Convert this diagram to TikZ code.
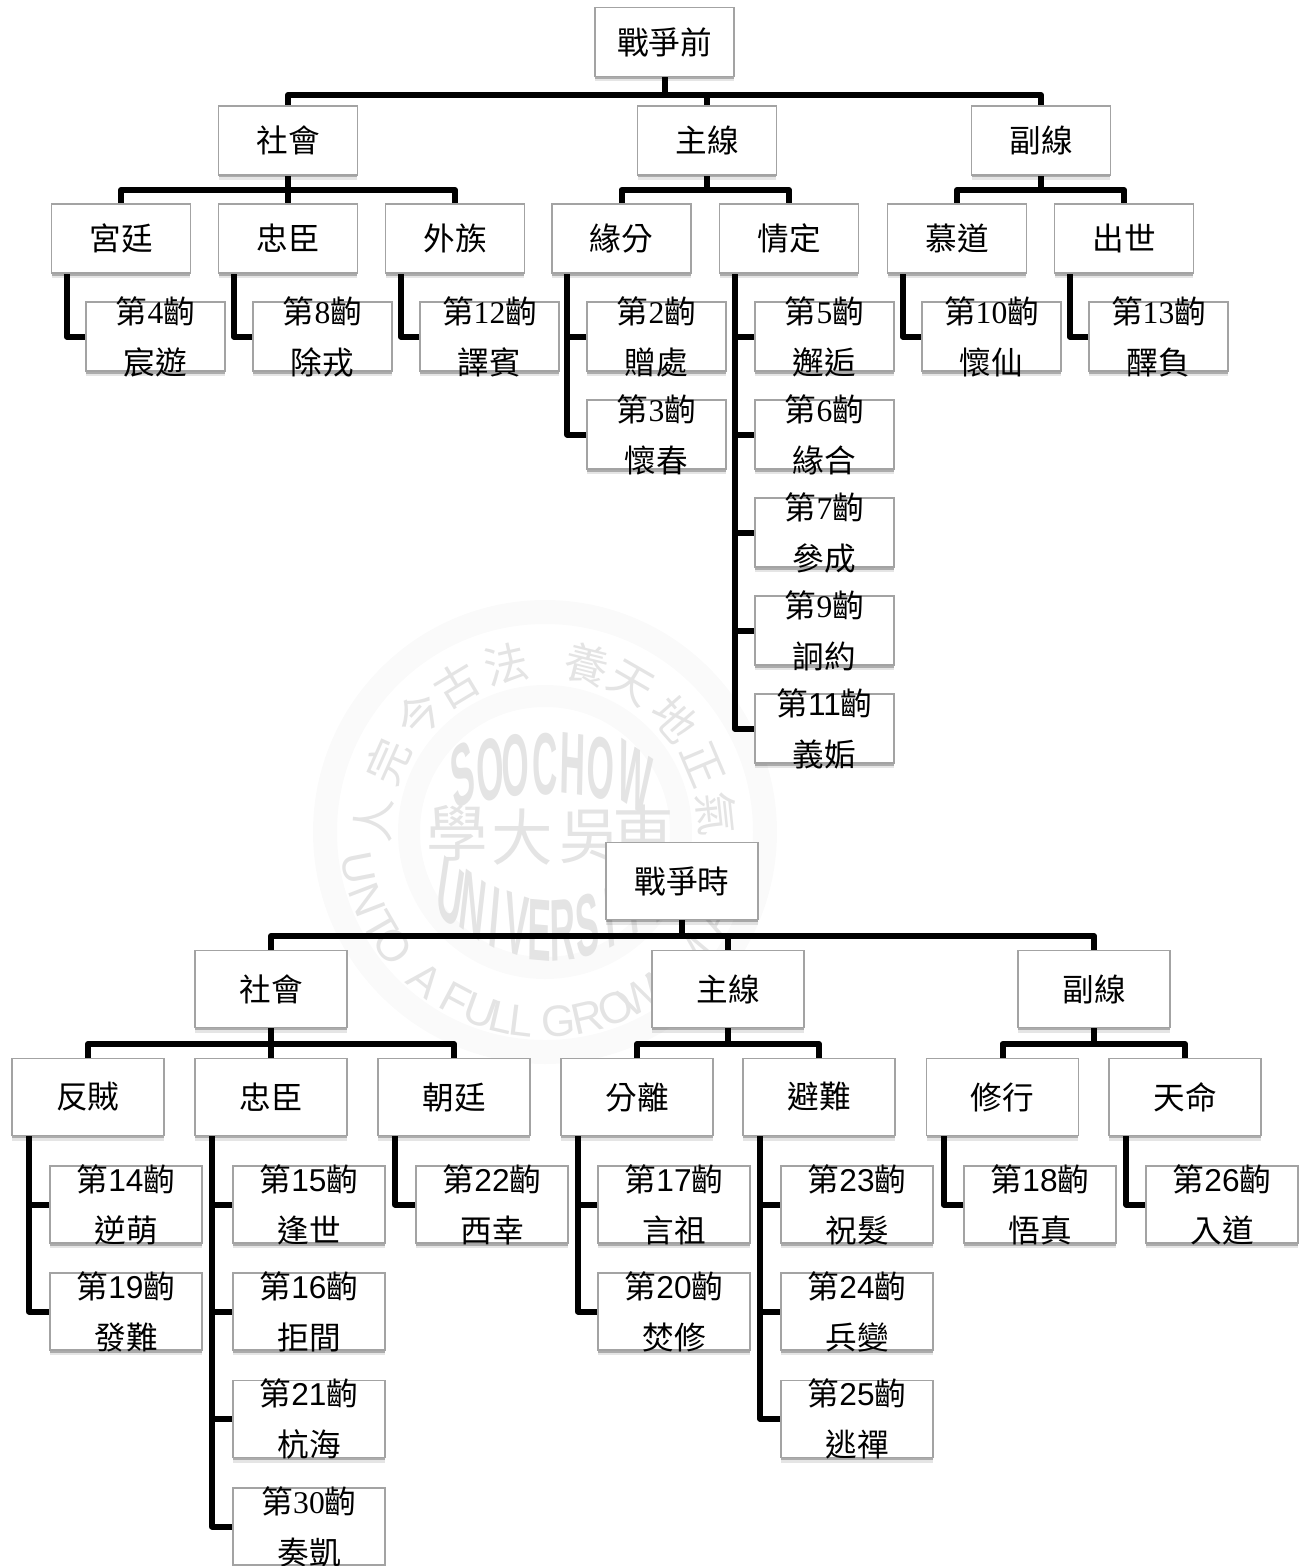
\documentclass[tikz,border=0pt]{standalone}
\usepackage{fontspec}
\setmainfont{Noto Sans CJK TC}
\newfontfamily\serfont{Liberation Serif}
\newfontfamily\sanfont{Liberation Sans}
\usetikzlibrary{backgrounds,calc,shadows}
\definecolor{boxline}{HTML}{A3A3A3}
\definecolor{sealgray}{HTML}{E4E4E4}
\definecolor{sealring}{HTML}{FAFAFA}
\newcommand{\digser}[1]{{\serfont #1}}
\newcommand{\digsan}[1]{{\sanfont #1}}
\tikzset{
  box/.style={draw=boxline, line width=0.9pt, fill=white, inner sep=0pt,
    drop shadow={shadow xshift=0pt, shadow yshift=-0.1cm, opacity=.1, fill=black},
    drop shadow={shadow xshift=0pt, shadow yshift=-0.05cm, opacity=.25, fill=black},
    font=\fontsize{18}{29}\selectfont},
  boxa/.style={box, minimum width=2.78cm, minimum height=1.38cm},
  boxb/.style={box, minimum width=3.04cm, minimum height=1.54cm},
  leaftxt/.style={align=center, inner sep=0pt, font=\fontsize{18}{29}\selectfont},
  conn/.style={line width=0.12cm, line join=round, black},
  sealchar/.style={sealgray, inner sep=0pt, font=\fontsize{25}{25}\selectfont},
  sealbig/.style={sealgray, inner sep=0pt, font=\sanfont\bfseries\fontsize{20}{20}\selectfont},
  seallat/.style={sealgray, inner sep=0pt, font=\sanfont\fontsize{25}{25}\selectfont},
}

\begin{document}
\begin{tikzpicture}[x=0.02cm, y=-0.02cm]
  \useasboundingbox (0,0) rectangle (1310,1566);
  % before the war
  \node[boxa] (pre) at (664.5,42) {戰爭前};
  \node[boxa] (preSoc) at (288,140.5) {社會};
  \node[boxa] (preMain) at (707,140.5) {主線};
  \node[boxa] (preSide) at (1041,140.5) {副線};
  \node[boxa] (gong) at (121,238.5) {宮廷};
  \node[boxa] (zhong) at (288,238.5) {忠臣};
  \node[boxa] (wai) at (455,238.5) {外族};
  \node[boxa] (yuan) at (621.5,238.5) {緣分};
  \node[boxa] (qing) at (789,238.5) {情定};
  \node[boxa] (mu) at (957,238.5) {慕道};
  \node[boxa] (chu) at (1124,238.5) {出世};
  \foreach \nm/\x/\y/\dg/\t in {
    c4/155.5/336.5/\digser{4}/宸遊, c8/322.5/336.5/\digser{8}/除戎, c12/489.5/336.5/\digser{12}/譯賓,
    c2/656.5/336.5/\digser{2}/贈處, c3/656.5/434.5/\digser{3}/懷春,
    c5/824.5/336.5/\digser{5}/邂逅, c6/824.5/434.5/\digser{6}/緣合, c7/824.5/532.5/\digser{7}/參成,
    c9/824.5/630.5/\digser{9}/詗約, c11/824.5/728.5/\digsan{11}/義姤,
    c10/991.5/336.5/\digser{10}/懷仙, c13/1158.5/336.5/\digser{13}/醳負}
    \node[boxa, label={[leaftxt]center:{第\dg 齣\\\t}}] (\nm) at (\x,\y) {};
  % during the war
  \node[boxb] (war) at (682,881) {戰爭時};
  \node[boxb] (warSoc) at (271,989) {社會};
  \node[boxb] (warMain) at (728,989) {主線};
  \node[boxb] (warSide) at (1094,989) {副線};
  \node[boxb] (fan) at (88,1097) {反賊};
  \node[boxb] (zhongb) at (271,1097) {忠臣};
  \node[boxb] (chao) at (454,1097) {朝廷};
  \node[boxb] (fen) at (637,1097) {分離};
  \node[boxb] (bi) at (819,1097) {避難};
  \node[boxb] (xiu) at (1002.5,1097) {修行};
  \node[boxb] (tian) at (1185,1097) {天命};
  \foreach \nm/\x/\y/\dg/\t in {
    c14/126/1204.5/\digsan{14}/逆萌, c19/126/1311.5/\digsan{19}/發難,
    c15/309/1204.5/\digsan{15}/逢世, c16/309/1311.5/\digsan{16}/拒間,
    c21/309/1419/\digsan{21}/杭海, c30/309/1526.5/\digser{30}/奏凱,
    c22/492/1204.5/\digsan{22}/西幸,
    c17/674/1204.5/\digsan{17}/言祖, c20/674/1311.5/\digsan{20}/焚修,
    c23/857/1204.5/\digsan{23}/祝髮, c24/857/1311.5/\digsan{24}/兵變, c25/857/1419/\digsan{25}/逃禪,
    c18/1040/1204.5/\digsan{18}/悟真, c26/1222/1204.5/\digsan{26}/入道}
    \node[boxb, label={[leaftxt]center:{第\dg 齣\\\t}}] (\nm) at (\x,\y) {};
  \coordinate (busa) at (0,95);
  \coordinate (busb) at (0,190);
  \coordinate (busc) at (0,936);
  \coordinate (busd) at (0,1044);
  \coordinate (seal) at (545,832);
  \begin{scope}[on background layer]
    % watermark
    \draw[sealring, line width=0.48cm] (seal) circle (220);
    \draw[sealring, line width=0.44cm] (seal) circle (136);
    \foreach \a/\t [count=\i] in {176/人,156/完,137/今,121/古,103/法,76/養,60/天,41/地,23/正,6/氣}
      \node[sealchar, rotate=\a-90] (sc\i) at ($(seal)+(\a:3.44cm)$) {\t};
    \foreach \a/\t [count=\i] in {191/U,201/N,210/T,217/O,231/A,242/F,250/U,257/L,263/L,274/G,283/R,292/O,300/W,309/N,320/M,333/A,345/N}
      \node[seallat, rotate=\a+90] (sl\i) at ($(seal)+(\a:3.8cm)$) {\t};
    \foreach \x/\y/\r/\t [count=\i] in {463/775/15/S,490/770/8/O,516/766/3/O,545/764/0/C,573/764/-3/H,601/768/-8/O,635/778/-15/W,
      450/893/-20/U,473/905/-16/N,495/917/-12/I,517/925/-8/V,540/930/-2/E,563/930/2/R,587/925/8/S,610/917/12/I,632/905/16/T,655/893/20/Y}
      \node[sealbig, yscale=2.5, rotate=\r] (sb\i) at (\x,\y) {\t};
    \foreach \x/\y/\t [count=\i] in {457/833/學,522/837/大,590/837/吳,643/833/東}
      \node[sealchar, scale=1.4] (sd\i) at (\x,\y) {\t};
    % connectors
    \draw[conn] (pre.south) -- (pre.south |- busa);
    \draw[conn] (preMain.north) -- (preMain.north |- busa);
    \draw[conn] (preSoc.north) |- (preSide.north |- busa) -- (preSide.north);
    \draw[conn] (preSoc.south) -- (preSoc.south |- busb);
    \draw[conn] (zhong.north) -- (zhong.north |- busb);
    \draw[conn] (gong.north) |- (wai.north |- busb) -- (wai.north);
    \draw[conn] (preMain.south) -- (preMain.south |- busb);
    \draw[conn] (yuan.north) |- (qing.north |- busb) -- (qing.north);
    \draw[conn] (preSide.south) -- (preSide.south |- busb);
    \draw[conn] (mu.north) |- (chu.north |- busb) -- (chu.north);
    \foreach \p/\c in {gong/c4,zhong/c8,wai/c12,yuan/c2,yuan/c3,qing/c5,qing/c6,qing/c7,qing/c9,qing/c11,mu/c10,chu/c13}
      \draw[conn] ($(\p.south west)+(16,0)$) |- (\c.west);
    \draw[conn] (war.south) -- (war.south |- busc);
    \draw[conn] (warMain.north) -- (warMain.north |- busc);
    \draw[conn] (warSoc.north) |- (warSide.north |- busc) -- (warSide.north);
    \draw[conn] (warSoc.south) -- (warSoc.south |- busd);
    \draw[conn] (zhongb.north) -- (zhongb.north |- busd);
    \draw[conn] (fan.north) |- (chao.north |- busd) -- (chao.north);
    \draw[conn] (warMain.south) -- (warMain.south |- busd);
    \draw[conn] (fen.north) |- (bi.north |- busd) -- (bi.north);
    \draw[conn] (warSide.south) -- (warSide.south |- busd);
    \draw[conn] (xiu.north) |- (tian.north |- busd) -- (tian.north);
    \foreach \p/\c in {fan/c14,fan/c19,zhongb/c15,zhongb/c16,zhongb/c21,zhongb/c30,chao/c22,fen/c17,fen/c20,bi/c23,bi/c24,bi/c25,xiu/c18,tian/c26}
      \draw[conn] ($(\p.south west)+(18,0)$) |- (\c.west);
  \end{scope}
\end{tikzpicture}
\end{document}
